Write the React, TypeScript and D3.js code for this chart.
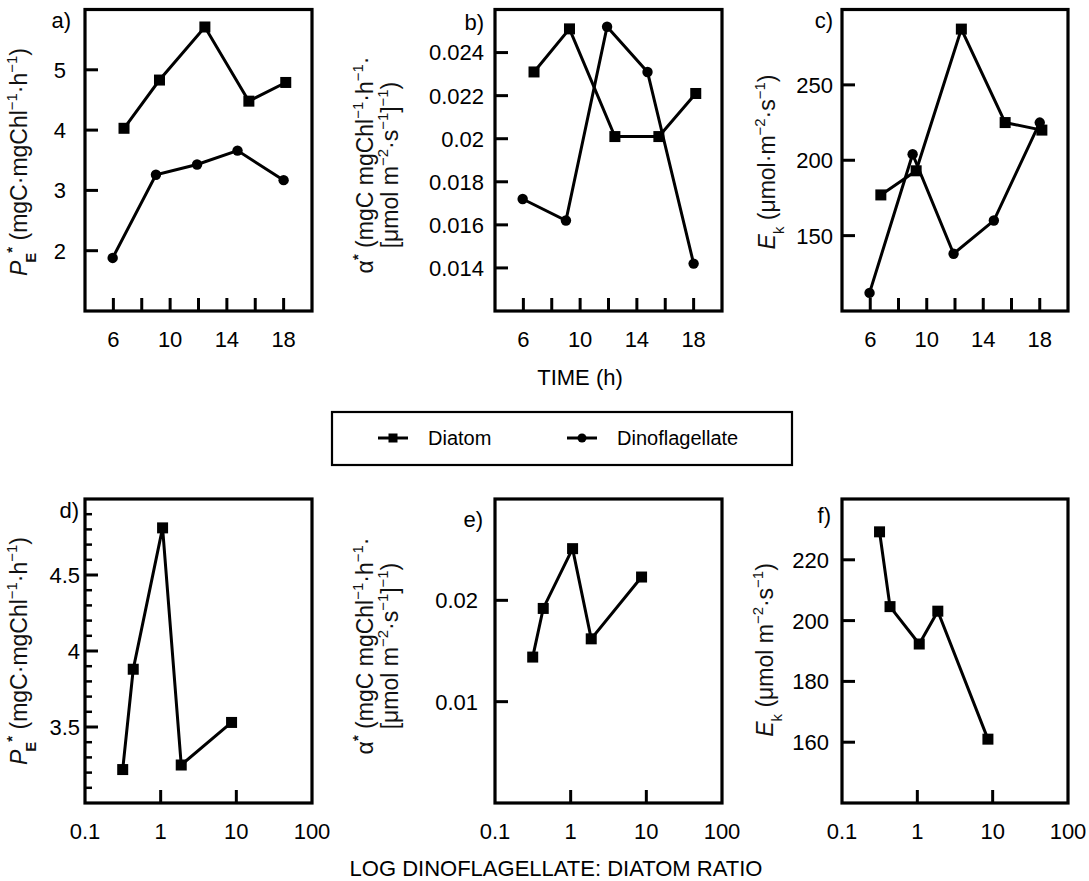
import React from "react";
import * as d3 from "d3";

const WIDTH = 1089;
const HEIGHT = 881;
const FONT = "'Liberation Sans', Arial, Helvetica, sans-serif";

// sampling times (h) for the diel panels
const diatomHours = [6.75, 9.25, 12.45, 15.55, 18.15];
const dinoHours = [5.95, 9.0, 11.9, 14.75, 18.0];

// a) P*E
const pmDiatom = [4.03, 4.83, 5.71, 4.48, 4.79];
const pmDino = [1.88, 3.26, 3.43, 3.66, 3.17];
// b) alpha*
const alphaDiatom = [0.0231, 0.0251, 0.0201, 0.0201, 0.0221];
const alphaDino = [0.0172, 0.0162, 0.0252, 0.0231, 0.0142];
// c) Ek
const ekDiatom = [177, 193, 287, 225, 220];
const ekDino = [112, 204, 138, 160, 225];

// d-f) vs dinoflagellate : diatom ratio
const ratios = [0.315, 0.434, 1.06, 1.87, 8.65];
const pmRatio = [3.22, 3.88, 4.81, 3.25, 3.53];
const alphaRatio = [0.0144, 0.0192, 0.0251, 0.0162, 0.0223];
const ekRatio = [229.2, 204.6, 192.3, 203.1, 161.0];

const hourTicks = [6, 8, 10, 12, 14, 16, 18];
const hourLabels = [6, 10, 14, 18];
const ratioTicks = [1, 10];
const ratioLabels = [0.1, 1, 10, 100];

type Seg = { t: string; s?: "sup" | "sub"; i?: boolean; b?: boolean; dx?: number };

function rich(segs: Seg[], fs: number) {
  let shift = 0;
  return segs.map((sg, k) => {
    const target = sg.s === "sup" ? -fs * 0.42 : sg.s === "sub" ? fs * 0.38 : 0;
    const dy = target - shift;
    shift = target;
    return (
      <tspan
        key={k}
        dy={dy}
        dx={sg.dx}
        fontSize={sg.s ? fs * 0.65 : fs}
        fontStyle={sg.i ? "italic" : undefined}
        fontWeight={sg.b ? "bold" : undefined}
      >
        {sg.t}
      </tspan>
    );
  });
}

const pmLabel: Seg[] = [
  { t: "P", i: true },
  { t: "E", s: "sub", b: true, dx: -2 },
  { t: "*", s: "sup", b: true },
  { t: " (mgC·mgChl" },
  { t: "−1", s: "sup" },
  { t: "·h" },
  { t: "−1", s: "sup" },
  { t: ")" },
];
const alphaLine1: Seg[] = [
  { t: "α" },
  { t: "*", s: "sup", b: true },
  { t: " (mgC mgChl" },
  { t: "−1", s: "sup" },
  { t: "·h" },
  { t: "−1", s: "sup" },
  { t: "·" },
];
const alphaLine2: Seg[] = [
  { t: "[μmol m" },
  { t: "−2", s: "sup" },
  { t: "·s" },
  { t: "−1", s: "sup" },
  { t: "]" },
  { t: "−1", s: "sup" },
  { t: ")" },
];
const ekLabelTop: Seg[] = [
  { t: "E", i: true },
  { t: "k", s: "sub" },
  { t: " (μmol·m" },
  { t: "−2", s: "sup" },
  { t: "·s" },
  { t: "−1", s: "sup" },
  { t: ")" },
];
const ekLabelBottom: Seg[] = [
  { t: "E", i: true },
  { t: "k", s: "sub" },
  { t: " (μmol m" },
  { t: "−2", s: "sup" },
  { t: "·s" },
  { t: "−1", s: "sup" },
  { t: ")" },
];

type Series = { xs: number[]; ys: number[]; marker: "square" | "circle" };

type PanelProps = {
  box: { x0: number; x1: number; y0: number; y1: number };
  logX: boolean;
  yDomain: [number, number];
  yTicks: number[];
  minorY?: boolean;
  series: Series[];
  letter: string;
  letterX: number;
  letterY: number;
  tickRight: number;
  labelX: number[];
  labelY: number;
  labels: Seg[][];
};

const Panel = (p: PanelProps) => {
  const { x0, x1, y0, y1 } = p.box;
  const xScale: any = p.logX
    ? d3.scaleLog().domain([0.1, 100]).range([x0, x1])
    : d3.scaleLinear().domain([4, 20]).range([x0, x1]);
  const yScale = d3.scaleLinear().domain(p.yDomain).range([y1, y0]);
  const xTicks = p.logX ? ratioTicks : hourTicks;
  const xLabels = p.logX ? ratioLabels : hourLabels;
  const minor = p.minorY
    ? yScale.ticks(20).filter((t) => t > p.yDomain[0] + 1e-9 && t < p.yDomain[1] - 1e-9 && !p.yTicks.some((m) => Math.abs(m - t) < 1e-9))
    : [];

  const line = d3
    .line<number>()
    .x((_, i, arr) => 0)
    .y(() => 0);

  return (
    <g>
      {p.series.map((s, si) => {
        const pts: [number, number][] = s.xs.map((x, i) => [xScale(x), yScale(s.ys[i])]);
        const path = d3.line()(pts) || "";
        return (
          <g key={si}>
            <path d={path} fill="none" stroke="#000" strokeWidth={3} strokeLinejoin="miter" />
            {pts.map(([px, py], i) =>
              s.marker === "square" ? (
                <rect key={i} x={px - 5.5} y={py - 5.5} width={11} height={11} fill="#000" />
              ) : (
                <circle key={i} cx={px} cy={py} r={5.2} fill="#000" />
              )
            )}
          </g>
        );
      })}
      {/* y ticks */}
      {p.yTicks.map((t) => (
        <g key={"y" + t}>
          <line x1={x0} x2={x0 + 13} y1={yScale(t)} y2={yScale(t)} stroke="#000" strokeWidth={3} />
          <text x={p.tickRight} y={yScale(t)} dy="0.36em" textAnchor="end" fontSize={22}>
            {String(t)}
          </text>
        </g>
      ))}
      {minor.map((t) => (
        <line key={"m" + t} x1={x0} x2={x0 + 7} y1={yScale(t)} y2={yScale(t)} stroke="#000" strokeWidth={2.5} />
      ))}
      {/* x ticks */}
      {xTicks.map((t) => (
        <line key={"x" + t} x1={xScale(t)} x2={xScale(t)} y1={y1} y2={y1 - 13} stroke="#000" strokeWidth={3} />
      ))}
      {xLabels.map((t) => (
        <text key={"xl" + t} x={xScale(t)} y={y1 + 36} textAnchor="middle" fontSize={22}>
          {String(t)}
        </text>
      ))}
      <rect x={x0} y={y0} width={x1 - x0} height={y1 - y0} fill="none" stroke="#000" strokeWidth={3.2} />
      <text x={p.letterX} y={p.letterY} textAnchor="end" fontSize={22}>
        {p.letter}
      </text>
      {p.labels.map((segs, li) => (
        <text
          key={li}
          transform={`translate(${p.labelX[li]},${p.labelY}) rotate(-90)`}
          textAnchor="middle"
          fontSize={23}
          fill="#111"
        >
          {rich(segs, 23)}
        </text>
      ))}
    </g>
  );
};

const App = () => {
  const top = { y0: 9.5, y1: 311 };
  const bot = { y0: 499, y1: 803 };
  const cols = [
    { x0: 85, x1: 312 },
    { x0: 495, x1: 722 },
    { x0: 842, x1: 1068 },
  ];
  return (
    <svg
      width={WIDTH}
      height={HEIGHT}
      style={{ position: "absolute", left: 0, top: 0, background: "#fff" }}
      fontFamily={FONT}
    >
      <Panel
        box={{ ...cols[0], ...top }}
        logX={false}
        yDomain={[1, 6]}
        yTicks={[2, 3, 4, 5]}
        series={[
          { xs: diatomHours, ys: pmDiatom, marker: "square" },
          { xs: dinoHours, ys: pmDino, marker: "circle" },
        ]}
        letter="a)"
        letterX={71}
        letterY={28}
        tickRight={66}
        labelX={[27]}
        labelY={162}
        labels={[pmLabel]}
      />
      <Panel
        box={{ ...cols[1], ...top }}
        logX={false}
        yDomain={[0.012, 0.026]}
        yTicks={[0.014, 0.016, 0.018, 0.02, 0.022, 0.024]}
        series={[
          { xs: diatomHours, ys: alphaDiatom, marker: "square" },
          { xs: dinoHours, ys: alphaDino, marker: "circle" },
        ]}
        letter="b)"
        letterX={484}
        letterY={30}
        tickRight={484}
        labelX={[373, 398]}
        labelY={165}
        labels={[alphaLine1, alphaLine2]}
      />
      <Panel
        box={{ ...cols[2], ...top }}
        logX={false}
        yDomain={[100, 300]}
        yTicks={[150, 200, 250]}
        series={[
          { xs: diatomHours, ys: ekDiatom, marker: "square" },
          { xs: dinoHours, ys: ekDino, marker: "circle" },
        ]}
        letter="c)"
        letterX={833}
        letterY={28}
        tickRight={833}
        labelX={[775]}
        labelY={162}
        labels={[ekLabelTop]}
      />
      <Panel
        box={{ ...cols[0], ...bot }}
        logX={true}
        yDomain={[3, 5]}
        yTicks={[3.5, 4, 4.5]}
        minorY={true}
        series={[{ xs: ratios, ys: pmRatio, marker: "square" }]}
        letter="d)"
        letterX={79}
        letterY={518}
        tickRight={80}
        labelX={[27]}
        labelY={651}
        labels={[pmLabel]}
      />
      <Panel
        box={{ ...cols[1], ...bot }}
        logX={true}
        yDomain={[0, 0.03]}
        yTicks={[0.01, 0.02]}
        series={[{ xs: ratios, ys: alphaRatio, marker: "square" }]}
        letter="e)"
        letterX={483}
        letterY={527}
        tickRight={478}
        labelX={[373, 398]}
        labelY={646}
        labels={[alphaLine1, alphaLine2]}
      />
      <Panel
        box={{ ...cols[2], ...bot }}
        logX={true}
        yDomain={[140, 240]}
        yTicks={[160, 180, 200, 220]}
        series={[{ xs: ratios, ys: ekRatio, marker: "square" }]}
        letter="f)"
        letterX={831}
        letterY={523}
        tickRight={829}
        labelX={[773]}
        labelY={650}
        labels={[ekLabelBottom]}
      />

      <text x={580} y={385} textAnchor="middle" fontSize={22}>
        TIME (h)
      </text>
      <text x={556} y={876} textAnchor="middle" fontSize={22}>
        LOG DINOFLAGELLATE: DIATOM RATIO
      </text>

      {/* legend */}
      <rect x={332} y={412} width={460} height={53} fill="none" stroke="#000" strokeWidth={2.2} />
      <line x1={378} x2={408} y1={438} y2={438} stroke="#000" strokeWidth={3} />
      <rect x={388.5} y={433.5} width={9} height={9} fill="#000" />
      <text x={428} y={445} fontSize={20}>
        Diatom
      </text>
      <line x1={567} x2={597} y1={438} y2={438} stroke="#000" strokeWidth={3} />
      <circle cx={582} cy={438} r={4.5} fill="#000" />
      <text x={617} y={445} fontSize={20}>
        Dinoflagellate
      </text>
    </svg>
  );
};

export default App;
